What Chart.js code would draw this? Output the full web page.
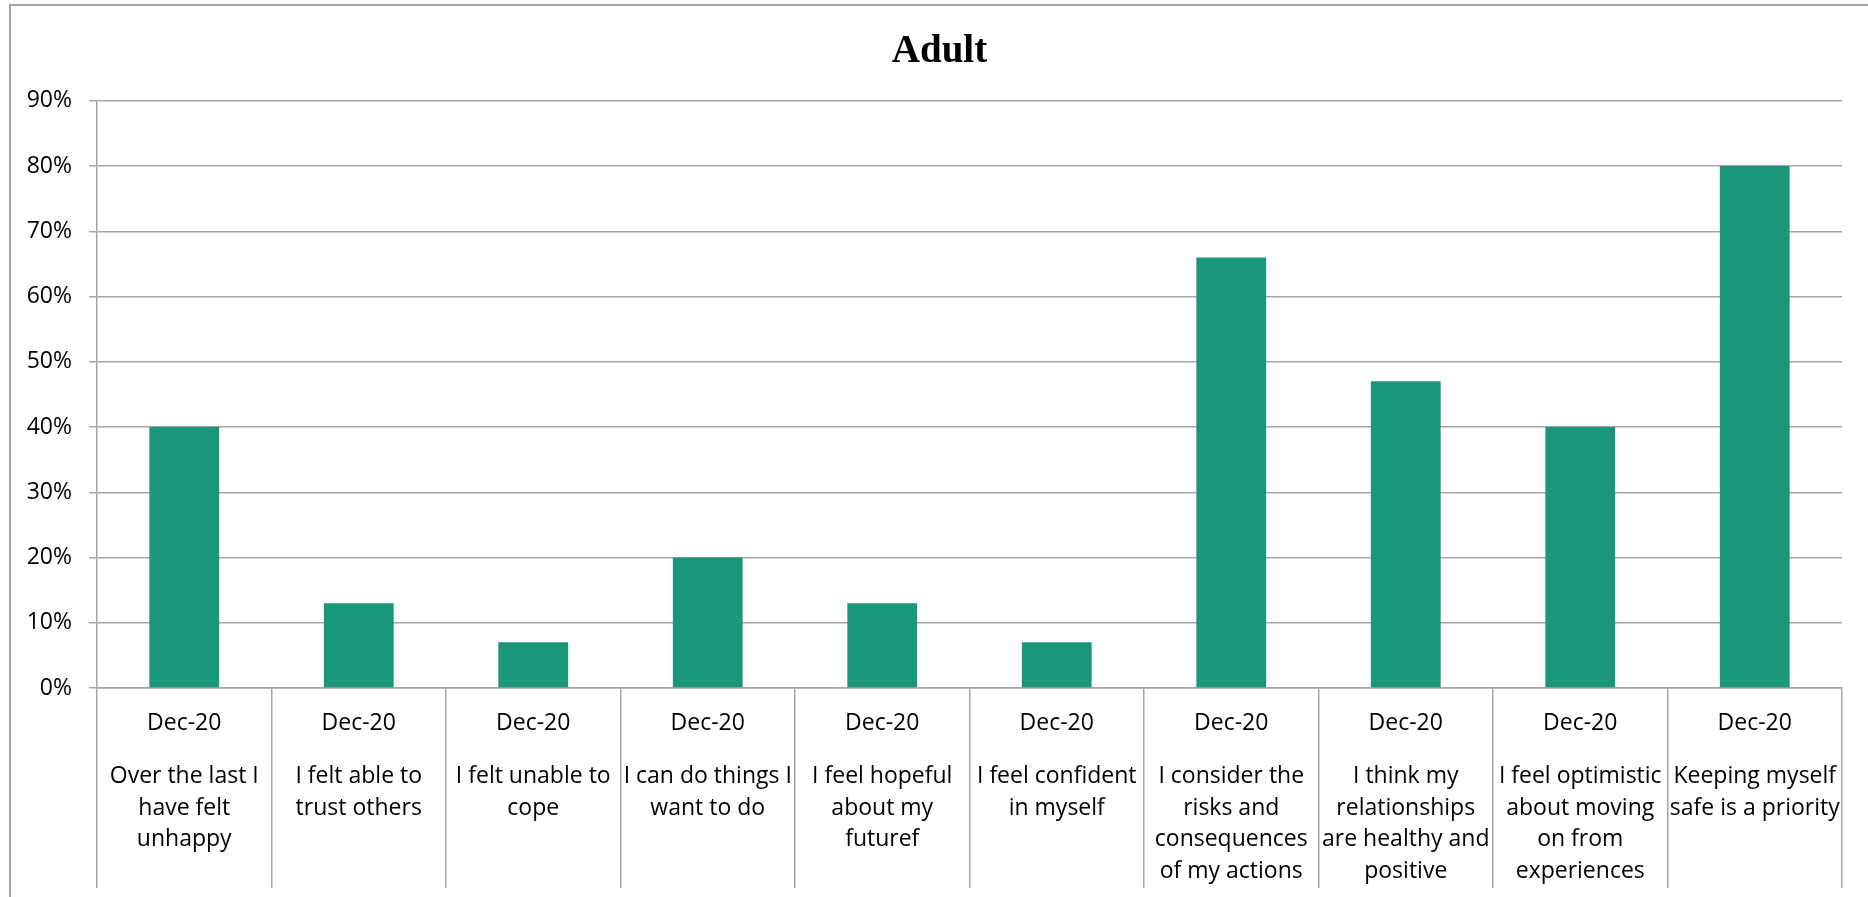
<!DOCTYPE html>
<html>
<head>
<meta charset="utf-8">
<title>Adult</title>
<script src="https://cdn.jsdelivr.net/npm/chart.js@4/dist/chart.umd.min.js"></script>
<style>
    body { margin: 0; background: #fff; }
    #wrap { position: relative; width: 1868px; height: 897px; }
    #frame {
        position: absolute; left: 9px; top: 4px; right: 0; bottom: 0;
        border-left: 2px solid #a6a6a6; border-top: 2px solid #a6a6a6;
        pointer-events: none;
    }
</style>
</head>
<body>
<div id="wrap">
    <canvas id="chart" width="1868" height="897"></canvas>
    <div id="frame"></div>
</div>
<script>
// =======================
// DATOS
// =======================
const periods = ["Dec-20", "Dec-20", "Dec-20", "Dec-20", "Dec-20", "Dec-20", "Dec-20", "Dec-20", "Dec-20", "Dec-20"];

const statements = [
    ["Over the last I", "have felt", "unhappy"],
    ["I felt able to", "trust others"],
    ["I felt unable to", "cope"],
    ["I can do things I", "want to do"],
    ["I feel hopeful", "about my", "futuref"],
    ["I feel confident", "in myself"],
    ["I consider the", "risks and", "consequences", "of my actions"],
    ["I think my", "relationships", "are healthy and", "positive"],
    ["I feel optimistic", "about moving", "on from", "experiences"],
    ["Keeping myself", "safe is a priority"]
];

const percentages = [40, 13, 7, 20, 13, 7, 66, 47, 40, 80];

const yTicks = [0, 10, 20, 30, 40, 50, 60, 70, 80, 90];

const gridGray = "#a6a6a6";
const labelFont = { family: "Open Sans", size: 23 };

// el título se centra un poco a la derecha del lienzo
const titleShift = {
    id: "titleShift",
    afterLayout(chart) {
        if (chart.titleBlock) chart.titleBlock.left += 28;
    }
};

// =======================
// GRÁFICO
// =======================
const ctx = document.getElementById("chart").getContext("2d");

new Chart(ctx, {
    type: "bar",
    data: {
        labels: periods,
        datasets: [{
            data: percentages,
            backgroundColor: "#1a9678",
            borderWidth: 0,
            categoryPercentage: 1,
            barPercentage: 0.4
        }]
    },
    plugins: [titleShift],
    options: {
        responsive: false,
        animation: false,
        layout: {
            padding: { left: 9, right: 26, top: 0, bottom: 9 }
        },
        plugins: {
            legend: { display: false },
            tooltip: { enabled: false },
            title: {
                display: true,
                text: "Adult",
                color: "#000",
                font: { family: "Liberation Serif", size: 39, weight: "bold", lineHeight: 1.2 },
                padding: { top: 29, bottom: 25 }
            }
        },
        scales: {
            x: {
                type: "category",
                offset: true,
                grid: {
                    offset: true,
                    drawOnChartArea: false,
                    color: gridGray,
                    tickLength: 200,
                    lineWidth: 1.5
                },
                border: { color: gridGray, width: 1.5 },
                ticks: {
                    color: "#000",
                    font: labelFont,
                    maxRotation: 0,
                    autoSkip: false,
                    padding: -178
                },
                afterFit: (scale) => { scale.height = 50; }
            },
            x2: {
                type: "category",
                position: "bottom",
                labels: statements,
                offset: true,
                grid: { display: false, drawTicks: false },
                border: { display: false },
                ticks: {
                    color: "#000",
                    font: { ...labelFont, lineHeight: 1.39 },
                    maxRotation: 0,
                    autoSkip: false,
                    padding: 22
                },
                afterFit: (scale) => { scale.height = 150; }
            },
            y: {
                min: 0,
                max: 90,
                afterBuildTicks: (scale) => {
                    scale.ticks = yTicks.map(v => ({ value: v }));
                },
                grid: {
                    color: gridGray,
                    tickLength: 8,
                    lineWidth: 1.5
                },
                border: { color: gridGray, width: 1.5 },
                ticks: {
                    color: "#000",
                    font: labelFont,
                    padding: 17,
                    callback: (v) => v + "%"
                },
                afterFit: (scale) => { scale.width = 88; }
            }
        }
    }
});
</script>
</body>
</html>
